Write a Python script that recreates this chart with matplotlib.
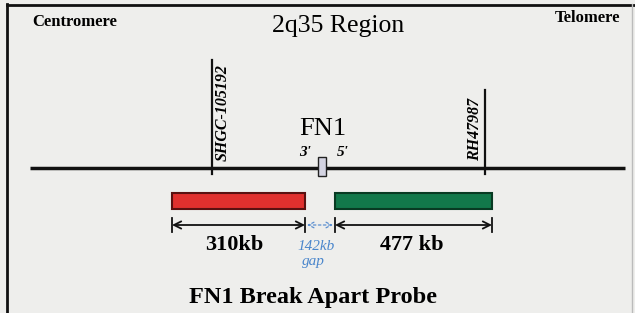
import matplotlib
matplotlib.use("Agg")
import matplotlib.pyplot as plt
from matplotlib.patches import Rectangle

plt.rcParams['font.family'] = ['Liberation Serif', 'DejaVu Serif']

# diagram layout (pixel units of the 635x313 picture)
chrom_y = 168
chrom_x = [30, 625]

marker_names = ['SHGC-105192', 'RH47987']
marker_x = [212, 485]
marker_top = [60, 90]
marker_label_x = [223, 475]

probe_start = [172, 335]
probe_end = [305, 492]
probe_colors = ['#e0302e', '#12784a']
probe_edges = ['#5a1010', '#083a22']

segment_labels = ['310kb', '142kb', '477 kb']
segment_start = [172, 305, 335]
segment_end = [305, 335, 492]
segment_label_x = [234, 316, 412]

gene_name = 'FN1'
gene_x = 322

fig = plt.figure(figsize=(6.35, 3.13), dpi=100)
fig.patch.set_facecolor('#eeeeec')
ax = fig.add_axes([0, 0, 1, 1])
ax.set_xlim(0, 635)
ax.set_ylim(313, 0)
ax.axis('off')

# frame
ax.plot([7, 7], [4, 313], color='#111111', lw=2)
ax.plot([7, 635], [4.5, 4.5], color='#111111', lw=2)
ax.plot([632, 632], [4, 313], color='#bbbbbb', lw=1)

ax.text(32, 22, 'Centromere', fontsize=12, fontweight='bold', va='center', ha='left')
ax.text(555, 18, 'Telomere', fontsize=12, fontweight='bold', va='center', ha='left')
ax.text(338, 26, '2q35 Region', fontsize=18.5, va='center', ha='center')

# chromosome line
ax.plot(chrom_x, [chrom_y, chrom_y], color='#111111', lw=2.5, solid_capstyle='butt')

# markers
for name, x, top, lx in zip(marker_names, marker_x, marker_top, marker_label_x):
    ax.plot([x, x], [top, chrom_y + 6], color='#111111', lw=1.6)
    ax.text(lx, 161, name, rotation=90, fontsize=11.5, fontstyle='italic',
            fontweight='bold', ha='center', va='bottom')

# gene
ax.add_patch(Rectangle((gene_x - 4, 157), 8, 19, facecolor='#d4d4e2',
                       edgecolor='#222222', lw=1, zorder=3))
ax.text(gene_x + 1, 129, gene_name, fontsize=19, ha='center', va='center')
ax.text(gene_x - 17, 153, "3'", fontsize=11, fontstyle='italic', fontweight='bold',
        ha='center', va='center')
ax.text(gene_x + 21, 153, "5'", fontsize=11, fontstyle='italic', fontweight='bold',
        ha='center', va='center')

# probes
for s, e, c, ec in zip(probe_start, probe_end, probe_colors, probe_edges):
    ax.add_patch(Rectangle((s, 192.5), e - s, 16, facecolor=c, edgecolor=ec, lw=1.5))

# size arrows
arrow_y = 225
for i, (s, e, lab, lx) in enumerate(zip(segment_start, segment_end,
                                         segment_labels, segment_label_x)):
    if i == 1:
        ax.annotate('', xy=(e - 2, arrow_y), xytext=(s + 2, arrow_y),
                    arrowprops=dict(arrowstyle='<->', color='#5b8fd0', lw=0.9,
                                    linestyle=(0, (2, 2)), shrinkA=0, shrinkB=0))
        ax.text(lx, 246, lab, fontsize=11, fontstyle='italic',
                color='#4a86cc', ha='center', va='center')
        ax.text(lx - 3, 261, 'gap', fontsize=11, fontstyle='italic',
                color='#4a86cc', ha='center', va='center')
    else:
        ax.annotate('', xy=(e, arrow_y), xytext=(s, arrow_y),
                    arrowprops=dict(arrowstyle='<->', color='#111111', lw=1.3,
                                    shrinkA=0, shrinkB=0, mutation_scale=13))
        ax.plot([s, s], [arrow_y - 7, arrow_y + 7], color='#111111', lw=1.3)
        ax.plot([e, e], [arrow_y - 7, arrow_y + 7], color='#111111', lw=1.3)
        ax.text(lx, 245, lab, fontsize=16, fontweight='bold',
                ha='center', va='center')

ax.text(313, 297, 'FN1 Break Apart Probe', fontsize=17.5, fontweight='bold',
        ha='center', va='center')

fig.savefig('out.png', dpi=100, facecolor=fig.get_facecolor())
